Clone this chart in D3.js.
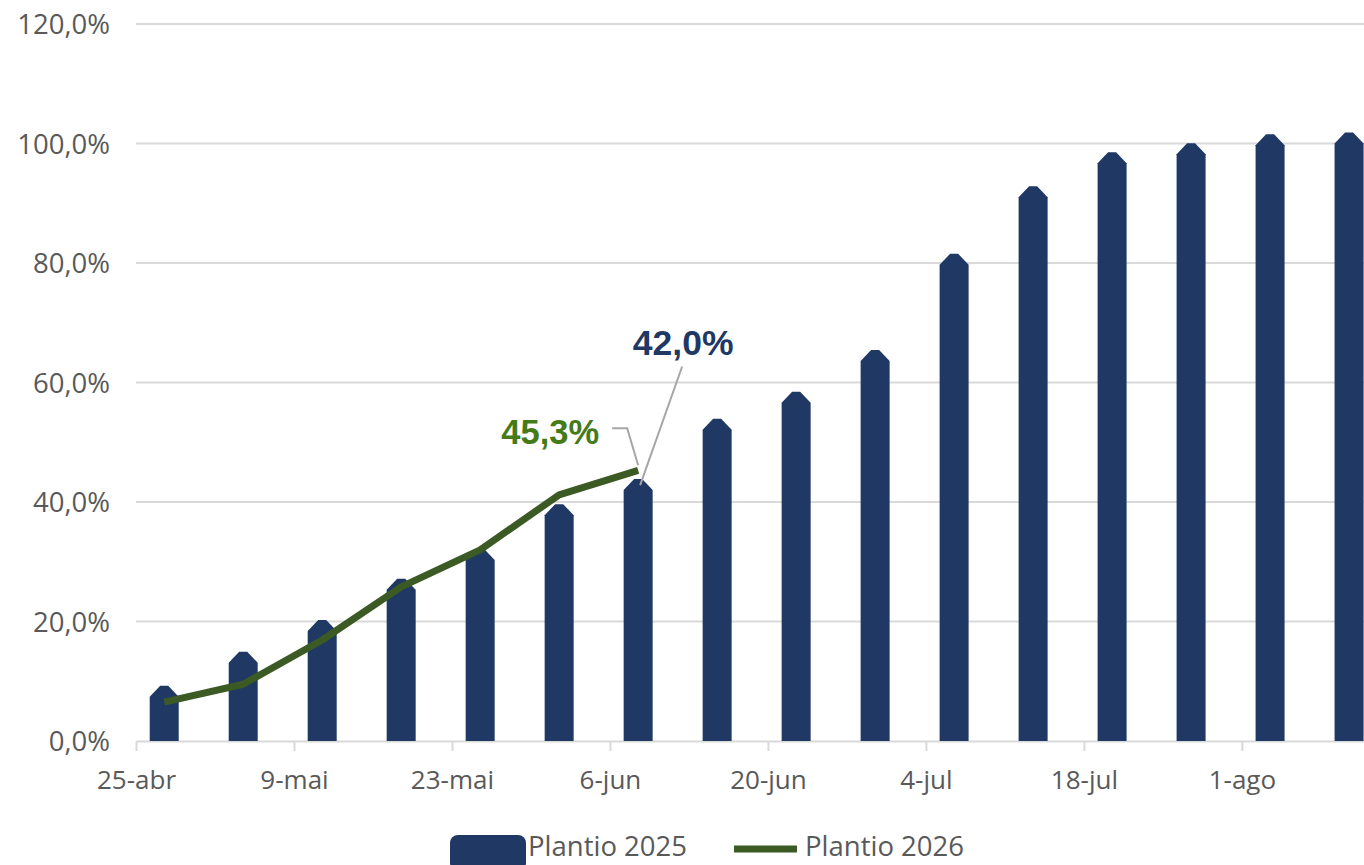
<!DOCTYPE html>
<html>
<head>
<meta charset="utf-8">
<script src="https://cdn.jsdelivr.net/npm/d3@7"></script>
<style>
  body { margin: 0; background: #fff; overflow: hidden; }
  svg { display: block; }
</style>
</head>
<body>
<div id="chart"></div>
<script>
// data
var barDates = ["2025-04-27", "2025-05-04", "2025-05-11", "2025-05-18", "2025-05-25", "2025-06-01",
  "2025-06-08", "2025-06-15", "2025-06-22", "2025-06-29", "2025-07-06", "2025-07-13",
  "2025-07-20", "2025-07-27", "2025-08-03", "2025-08-10"];
var plantio2025 = [7.4, 13.1, 18.4, 25.3, 30.3, 37.8, 42.0, 52.1, 56.6, 63.6, 79.7, 91.0, 96.7, 98.2, 99.7, 100.0];
var plantio2026 = [6.5, 9.5, 16.9, 25.8, 32.0, 41.2, 45.3];
var yTicks = [0, 20, 40, 60, 80, 100, 120];
var xTickDates = ["2025-04-25", "2025-05-09", "2025-05-23", "2025-06-06", "2025-06-20", "2025-07-04", "2025-07-18", "2025-08-01"];
var monthNames = ["jan", "fev", "mar", "abr", "mai", "jun", "jul", "ago", "set", "out", "nov", "dez"];
var seriesNames = ["Plantio 2025", "Plantio 2026"];

var svgWidth = 1364;
var svgHeight = 865;
var navy = "#1f3864";
var green = "#3b5a24";
var grey = "#595959";
var gridColor = "#d9d9d9";
var font = "'Open Sans', sans-serif";

var parse = d3.utcParse("%Y-%m-%d");

var svg = d3.select("#chart")
  .append("svg")
  .attr("width", svgWidth)
  .attr("height", svgHeight);

// scales
var x = d3.scaleUtc()
  .domain([parse("2025-04-25"), parse("2025-08-12")])
  .range([136, 1366]);

var y = d3.scaleLinear()
  .domain([0, 120])
  .range([741, 24]);

// mid-day of each date, like a date axis in excel
function xMid(s) {
  return x(d3.utcHour.offset(parse(s), 12));
}

// gridlines
svg.append("g")
  .selectAll("line")
  .data(yTicks.filter(d => d > 0))
  .enter()
  .append("line")
  .attr("x1", 136)
  .attr("x2", svgWidth)
  .attr("y1", d => y(d))
  .attr("y2", d => y(d))
  .attr("stroke", gridColor)
  .attr("stroke-width", 2);

// y axis labels
var leftAxis = d3.axisLeft(y)
  .tickValues(yTicks)
  .tickSize(0)
  .tickPadding(26)
  .tickFormat(d => d3.format(".1f")(d).replace(".", ",") + "%");

var yAxisG = svg.append("g")
  .attr("transform", "translate(136,0)")
  .call(leftAxis);
yAxisG.select(".domain").remove();
yAxisG.selectAll("text")
  .attr("font-family", font)
  .attr("font-size", "27.5px")
  .attr("fill", grey)
  .attr("dy", "0.36em");

// x axis
var bottomAxis = d3.axisBottom(x)
  .tickValues(xTickDates.map(parse))
  .tickSizeInner(10)
  .tickSizeOuter(0)
  .tickPadding(20)
  .tickFormat(d => d.getUTCDate() + "-" + monthNames[d.getUTCMonth()]);

var xAxisG = svg.append("g")
  .attr("transform", `translate(0, ${y(0)})`)
  .call(bottomAxis);
xAxisG.select(".domain")
  .attr("stroke", gridColor)
  .attr("stroke-width", 2);
xAxisG.selectAll(".tick line")
  .attr("stroke", gridColor)
  .attr("stroke-width", 2);
xAxisG.selectAll("text")
  .attr("font-family", font)
  .attr("font-size", "26px")
  .attr("fill", grey);

// bars with pointed tops
var barW = 29;
var cap = 11;
function barPath(d, i) {
  var cx = xMid(barDates[i]);
  var x0 = cx - barW / 2, x1 = cx + barW / 2;
  var ys = y(d), y0 = y(0);
  return `M${x0},${y0} L${x0},${ys} L${cx - 4},${ys - cap} L${cx + 4},${ys - cap} L${x1},${ys} L${x1},${y0} Z`;
}

svg.append("g")
  .selectAll("path")
  .data(plantio2025)
  .enter()
  .append("path")
  .attr("d", barPath)
  .attr("fill", navy);

// line
var line = d3.line()
  .x((d, i) => xMid(barDates[i]))
  .y(d => y(d));

svg.append("path")
  .datum(plantio2026)
  .attr("d", line)
  .attr("fill", "none")
  .attr("stroke", green)
  .attr("stroke-width", 7)
  .attr("stroke-linejoin", "round");

// data labels with leader lines
var i25 = 6, i26 = plantio2026.length - 1;
var bx = xMid(barDates[i25]);
svg.append("path")
  .attr("d", `M${bx + 44},${y(60) - 16} L${bx + 2},${y(plantio2025[i25]) - 5}`)
  .attr("fill", "none")
  .attr("stroke", "#a6a6a6")
  .attr("stroke-width", 2);
svg.append("text")
  .attr("x", bx + 45)
  .attr("y", y(60) - 28)
  .attr("text-anchor", "middle")
  .attr("font-family", "'Liberation Sans', Arial, sans-serif")
  .attr("font-weight", "bold")
  .attr("font-size", "35.5px")
  .attr("fill", navy)
  .text(d3.format(".1f")(plantio2025[i25]).replace(".", ",") + "%");

var lx = xMid(barDates[i26]);
var ly = y(plantio2026[i26]);
svg.append("path")
  .attr("d", `M${lx - 26},${ly - 42} L${lx - 11},${ly - 42} L${lx},${ly - 5}`)
  .attr("fill", "none")
  .attr("stroke", "#a6a6a6")
  .attr("stroke-width", 2);
svg.append("text")
  .attr("x", lx - 39)
  .attr("y", ly - 26)
  .attr("text-anchor", "end")
  .attr("font-family", "'Liberation Sans', Arial, sans-serif")
  .attr("font-weight", "bold")
  .attr("font-size", "34.5px")
  .attr("fill", "#457a18")
  .text(d3.format(".1f")(plantio2026[i26]).replace(".", ",") + "%");

// legend (sits at the bottom edge, as in the original)
var legend = svg.append("g");
legend.append("rect")
  .attr("x", 450)
  .attr("y", 835)
  .attr("width", 76)
  .attr("height", 36)
  .attr("rx", 8)
  .attr("fill", navy);
legend.append("text")
  .attr("x", 528)
  .attr("y", 856)
  .attr("font-family", font)
  .attr("font-size", "27.5px")
  .attr("fill", grey)
  .text(seriesNames[0]);
legend.append("line")
  .attr("x1", 734)
  .attr("x2", 797)
  .attr("y1", 849)
  .attr("y2", 849)
  .attr("stroke", green)
  .attr("stroke-width", 7);
legend.append("text")
  .attr("x", 805)
  .attr("y", 856)
  .attr("font-family", font)
  .attr("font-size", "27.5px")
  .attr("fill", grey)
  .text(seriesNames[1]);
</script>
</body>
</html>
